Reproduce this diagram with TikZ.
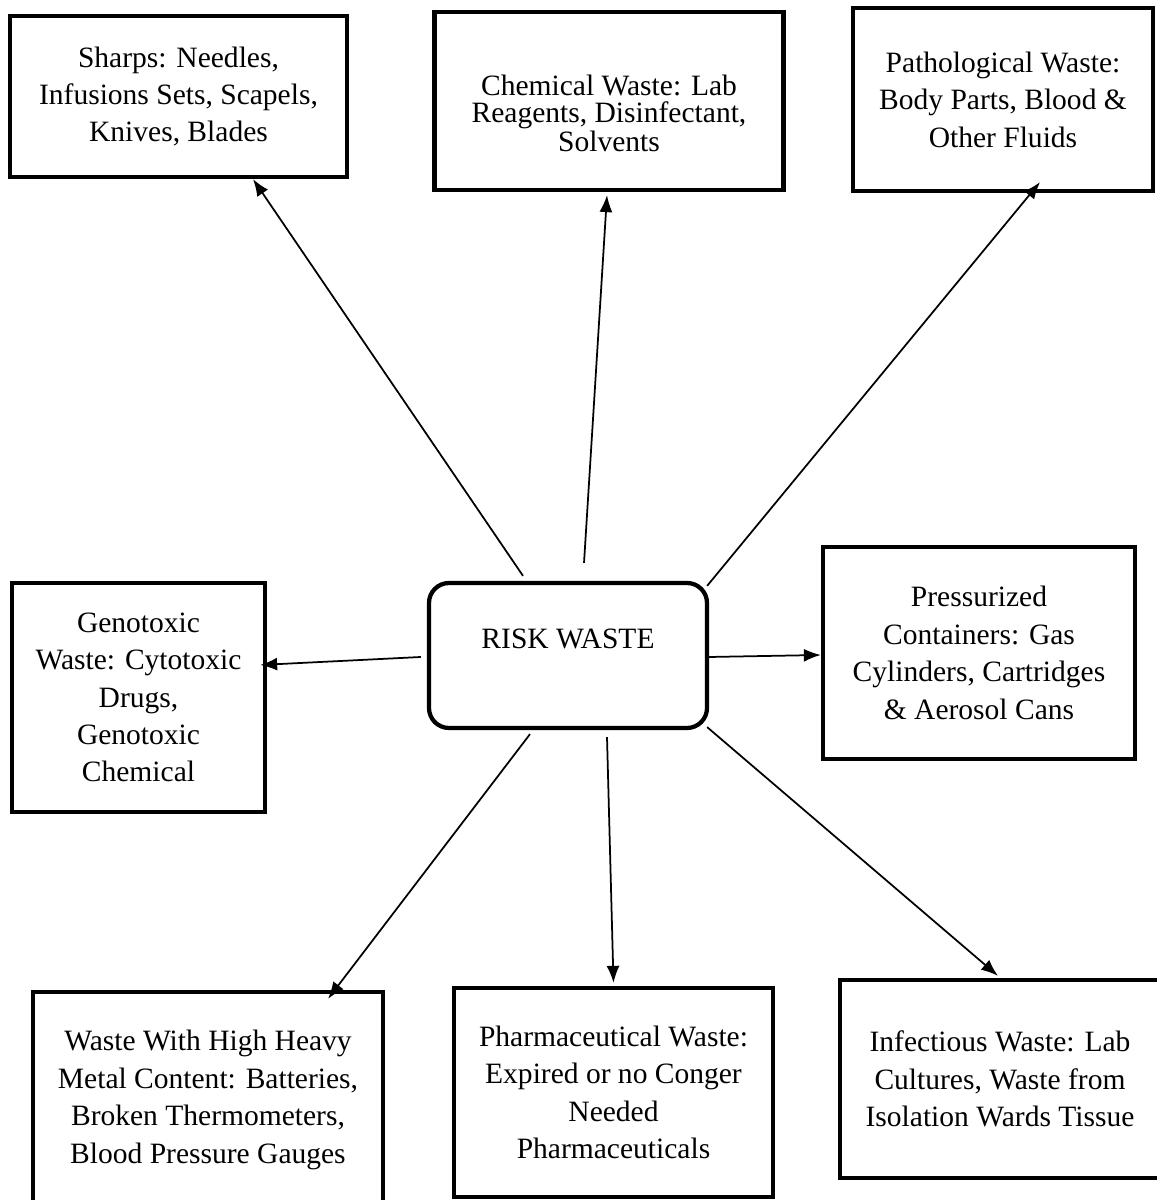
\documentclass[tikz,border=0pt]{standalone}
\usepackage{fontspec}
\setmainfont{Liberation Serif}
\usetikzlibrary{arrows.meta}
\tikzset{
  wastebox/.style={draw=black, line width=0.085cm, align=center, inner sep=4pt, font=\fontsize{16.8pt}{21.3pt}\selectfont},
  riskbox/.style={draw=black, line width=0.085cm, rounded corners=0.4cm, align=center, font=\fontsize{16.8pt}{21.3pt}\selectfont, text height=0.4cm, text depth=0.66cm},
  arrowline/.style={black, line width=0.035cm, -{Latex[length=0.34cm, width=0.26cm]}}
}

\begin{document}
\begin{tikzpicture}
  \useasboundingbox (0,0) rectangle (23.12,24);
  % centre
  \node[riskbox, minimum width=5.56cm, minimum height=2.9cm] (risk) at (11.36,10.89) {RISK WASTE};
  % top row
  \node[wastebox, minimum width=6.74cm, minimum height=3.22cm] (sharps) at (3.57,22.07) {Sharps: Needles,\\Infusions Sets, Scapels,\\Knives, Blades};
  \node[wastebox, minimum width=6.98cm, minimum height=3.56cm] (chem) at (12.18,21.98) {};
  \node[align=center, font=\fontsize{16.8pt}{15.2pt}\selectfont] (chemtext) at ([yshift=-0.25cm]chem.center) {Chemical Waste: Lab\\Reagents, Disinfectant,\\Solvents};
  \node[wastebox, minimum width=6.0cm, minimum height=3.66cm] (patho) at (20.06,22.01) {Pathological Waste:\\Body Parts, Blood \&\\Other Fluids};
  % middle row
  \node[wastebox, minimum width=5.06cm, minimum height=4.58cm] (geno) at (2.77,10.05) {Genotoxic\\Waste: Cytotoxic\\Drugs,\\Genotoxic\\Chemical};
  \node[wastebox, minimum width=6.24cm, minimum height=4.24cm] (press) at (19.58,10.94) {Pressurized\\Containers: Gas\\Cylinders, Cartridges\\\& Aerosol Cans};
  % bottom row
  \node[wastebox, minimum width=7.0cm, minimum height=4.32cm] (heavy) at (4.16,2.0) {Waste With High Heavy\\Metal Content: Batteries,\\Broken Thermometers,\\Blood Pressure Gauges};
  \node[wastebox, minimum width=6.38cm, minimum height=4.18cm] (pharma) at (12.27,2.15) {Pharmaceutical Waste:\\Expired or no Conger\\Needed\\Pharmaceuticals};
  \node[wastebox, minimum width=6.4cm, minimum height=3.96cm] (infect) at (20.0,2.42) {Infectious Waste: Lab\\Cultures, Waste from\\Isolation Wards Tissue};
  % arrows
  \draw[arrowline] ([xshift=-0.9cm,yshift=0.1cm]risk.north) -- ([xshift=1.49cm]sharps.south);
  \draw[arrowline] ([xshift=0.32cm,yshift=0.36cm]risk.north) -- ([xshift=-0.04cm,yshift=-0.06cm]chem.south);
  \draw[arrowline] ([xshift=-0.04cm,yshift=-0.1cm]risk.north east) -- ([xshift=0.74cm,yshift=0.22cm]patho.south);
  \draw[arrowline] ([xshift=-0.12cm,yshift=-0.03cm]risk.west) -- ([xshift=-0.14cm,yshift=0.65cm]geno.east);
  \draw[arrowline] ([yshift=-0.03cm]risk.east) -- ([yshift=-0.04cm]press.west);
  \draw[arrowline] ([xshift=-0.76cm,yshift=-0.08cm]risk.south) -- ([xshift=2.4cm,yshift=-0.18cm]heavy.north);
  \draw[arrowline] ([xshift=0.78cm,yshift=-0.14cm]risk.south) -- ([yshift=0.06cm]pharma.north);
  \draw[arrowline] ([xshift=-0.04cm,yshift=0.06cm]risk.south east) -- ([xshift=-0.04cm,yshift=0.04cm]infect.north);
\end{tikzpicture}
\end{document}
